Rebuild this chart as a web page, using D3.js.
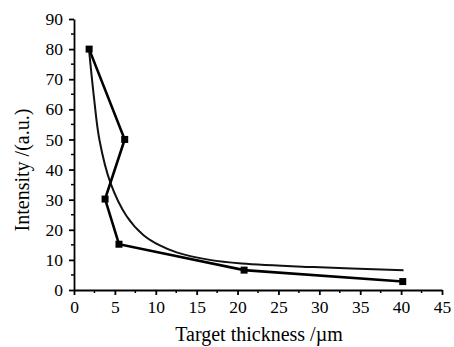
<!DOCTYPE html>
<html><head><meta charset="utf-8">
<script src="https://cdn.jsdelivr.net/npm/d3@7"></script>
<style>body{margin:0;background:#fff}svg{display:block}</style>
</head><body>
<svg id="c" width="454" height="347"></svg>
<script>
// Measured data (thickness µm, intensity a.u.)
const measX = [1.85, 6.2, 3.8, 5.5, 20.8, 40.2];
const measY = [80, 50, 30.2, 15.2, 6.6, 2.8];
// Fitted curve
const fitX = [1.85, 2.44, 3.1, 4.48, 6.44, 8.47, 10.5, 12.55, 16.6, 20.5, 29.3, 40.3];
const fitY = [79.5, 64, 50, 35.4, 24.5, 18.3, 14.8, 12.5, 10.0, 8.8, 7.6, 6.6];
const xTicks = [0,5,10,15,20,25,30,35,40,45];
const yTicks = [0,10,20,30,40,50,60,70,80,90];

const svg = d3.select("#c");
const x = d3.scaleLinear().domain([0,45]).range([74,442]);
const y = d3.scaleLinear().domain([0,90]).range([290,19]);
const font = "Liberation Serif, Times New Roman, serif";

// minor ticks
const xMinor = d3.range(2.5,45,5);
const yMinor = d3.range(5,90,10);
svg.append("g").selectAll("line").data(xMinor).join("line")
  .attr("x1",d=>x(d)).attr("x2",d=>x(d)).attr("y1",290).attr("y2",293)
  .attr("stroke","#000").attr("stroke-width",1.5);
svg.append("g").selectAll("line").data(yMinor).join("line")
  .attr("y1",d=>y(d)).attr("y2",d=>y(d)).attr("x1",74).attr("x2",71)
  .attr("stroke","#000").attr("stroke-width",1.5);

const xa = svg.append("g").attr("transform","translate(0,290)")
  .call(d3.axisBottom(x).tickValues(xTicks).tickSize(5).tickPadding(6).tickSizeOuter(0));
const ya = svg.append("g").attr("transform","translate(74,0)")
  .call(d3.axisLeft(y).tickValues(yTicks).tickSize(5).tickPadding(6).tickSizeOuter(0));
[xa,ya].forEach(a=>{
  a.select(".domain").attr("stroke","#000").attr("stroke-width",1.8);
  a.selectAll(".tick line").attr("stroke","#000").attr("stroke-width",1.8);
  a.selectAll("text").attr("font-family",font).attr("font-size",17.5).attr("fill","#000");
});

// fit curve
const fitPts = fitX.map((v,i)=>[v,fitY[i]]);
svg.append("path").datum(fitPts)
  .attr("d", d3.line().x(d=>x(d[0])).y(d=>y(d[1])).curve(d3.curveCatmullRom.alpha(0.5)))
  .attr("fill","none").attr("stroke","#111").attr("stroke-width",2);

// measured polyline
const measPts = measX.map((v,i)=>[v,measY[i]]);
svg.append("path").datum(measPts)
  .attr("d", d3.line().x(d=>x(d[0])).y(d=>y(d[1])))
  .attr("fill","none").attr("stroke","#000").attr("stroke-width",2.6);
svg.append("g").selectAll("rect").data(measPts).join("rect")
  .attr("x",d=>x(d[0])-3.5).attr("y",d=>y(d[1])-3.5)
  .attr("width",7).attr("height",7).attr("fill","#000");

// titles
svg.append("text").attr("x",259).attr("y",341).attr("text-anchor","middle")
  .attr("font-family",font).attr("font-size",20).text("Target thickness /µm");
svg.append("text").attr("transform","translate(29,170) rotate(-90)").attr("text-anchor","middle")
  .attr("font-family",font).attr("font-size",20).text("Intensity /(a.u.)");
</script>
</body></html>
